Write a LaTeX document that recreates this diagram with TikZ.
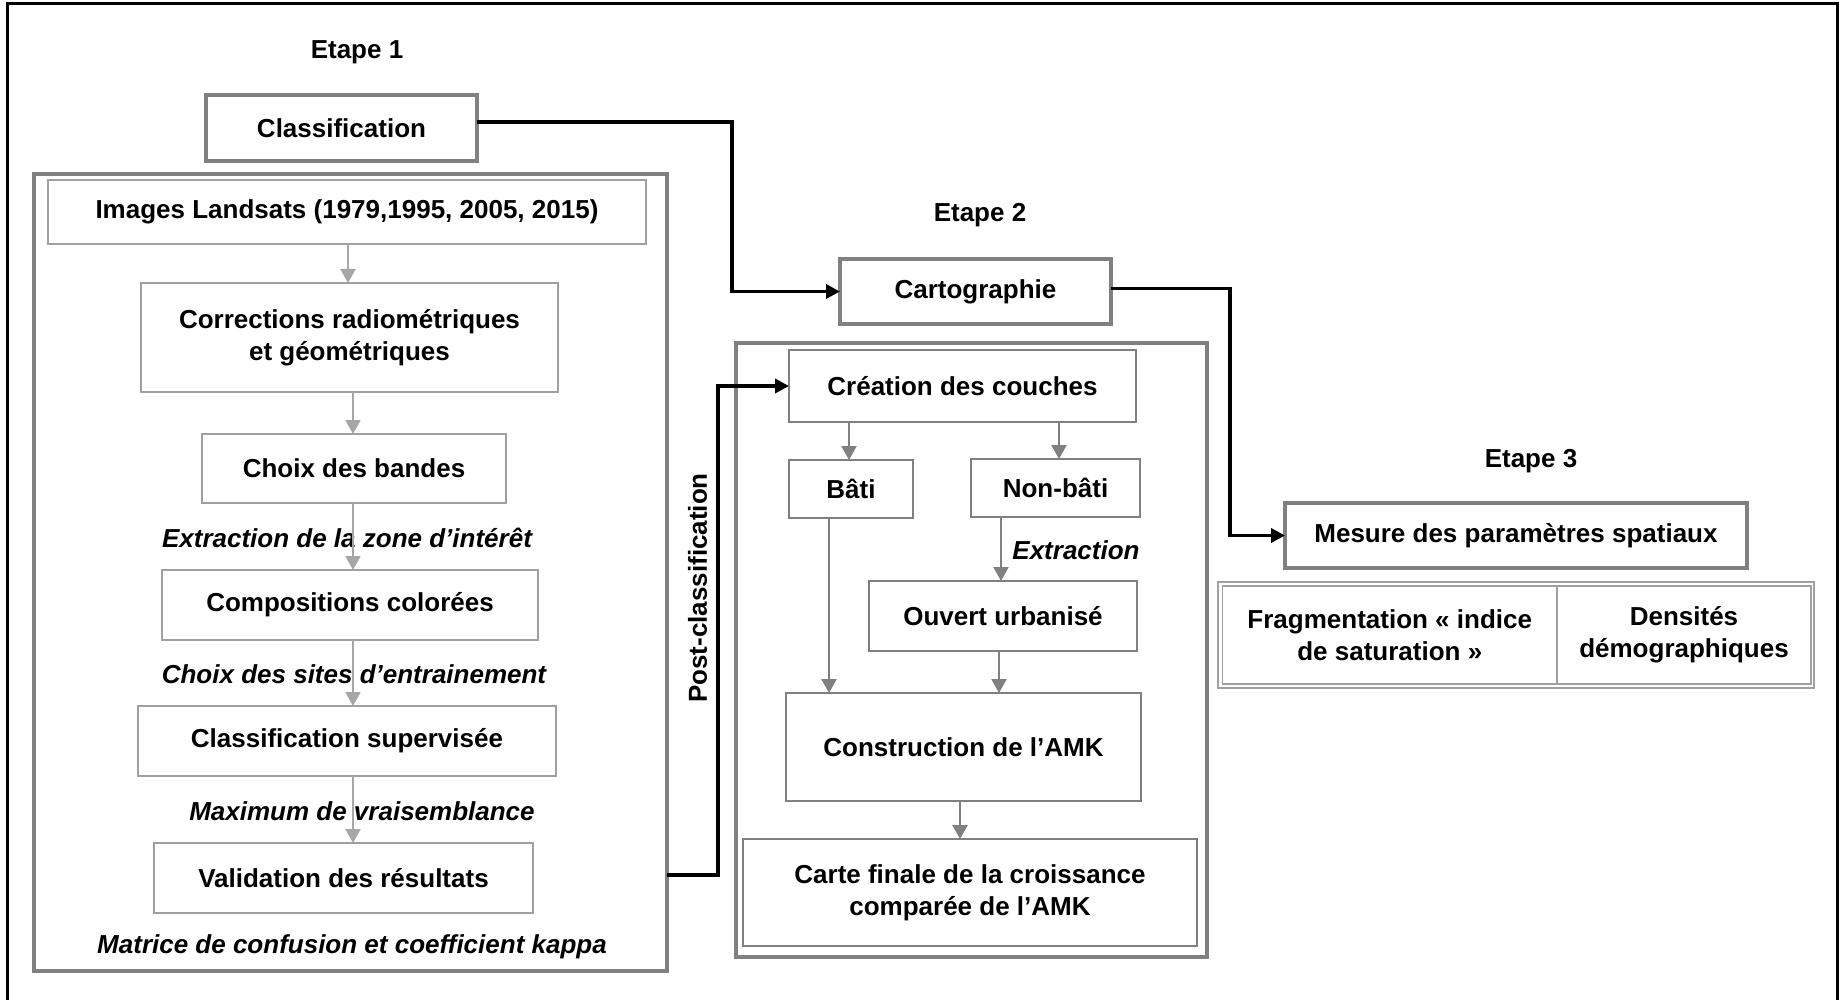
\documentclass[tikz,border=0pt]{standalone}
\usepackage{fontspec}
\setmainfont{Liberation Sans}
\usetikzlibrary{arrows.meta,calc}
\definecolor{thickgray}{HTML}{808080}
\definecolor{thingray}{HTML}{A0A0A0}
\definecolor{arrgray}{HTML}{A6A6A6}
\definecolor{arrgraydk}{HTML}{808080}
\begin{document}
\begin{tikzpicture}[x=1pt,y=-1pt,
  lbl/.style={font=\fontsize{26}{32}\selectfont\bfseries, inner sep=0pt},
  ital/.style={font=\fontsize{26}{32}\selectfont\bfseries\itshape, inner sep=0pt},
  tbox/.style={draw=thickgray, line width=4pt, fill=white, inner sep=0pt, outer sep=0pt, align=center, font=\fontsize{26}{32}\selectfont\bfseries},
  sbox/.style={draw=thingray, line width=1.5pt, fill=white, inner sep=0pt, outer sep=0pt, align=center, font=\fontsize{26}{32}\selectfont\bfseries},
  grp/.style={draw=thickgray, line width=4pt, inner sep=0pt, outer sep=0pt},
  garr/.style={draw=arrgray, line width=2pt, -{Triangle[length=14pt,width=15pt]}},
  darr/.style={draw=arrgraydk, line width=2.5pt, -{Triangle[length=14pt,width=15pt]}},
  barr/.style={draw=black, line width=3.5pt, -{Triangle[length=14pt,width=14pt]}}
]
\useasboundingbox[fill=white] (0,0) rectangle (1841,1000);
\draw[line width=3pt] (7,1010) -- (7,4) -- (1837,4) -- (1837,1010);

% ---------- Etape 1 ----------
\node[lbl] (e1) at (357,52) {Etape 1};
\node[tbox, minimum width=271pt, minimum height=66pt] (cls) at (341.5,128) {Classification};
\node[grp, minimum width=633pt, minimum height=797pt] (g1) at (350,572.5) {};
\node[sbox, minimum width=598pt, minimum height=64pt] (img) at (347,212) {Images Landsats (1979,1995, 2005, 2015)};
\node[sbox, minimum width=417pt, minimum height=109pt] (cor) at (349.5,337.5) {Corrections radiométriques\\et géométriques};
\node[sbox, minimum width=304pt, minimum height=69pt] (cho) at (354,468.5) {Choix des bandes};
\node[sbox, minimum width=376pt, minimum height=70pt] (com) at (350,605) {Compositions colorées};
\node[sbox, minimum width=418pt, minimum height=70pt] (csup) at (347,741) {Classification supervisée};
\node[sbox, minimum width=379pt, minimum height=70pt] (val) at (343.5,878) {Validation des résultats};
\node[ital] (l1) at (347,538) {Extraction de la zone d’intérêt};
\node[ital] (l2) at (354,674) {Choix des sites d’entrainement};
\node[ital] (l3) at (362,811) {Maximum de vraisemblance};
\node[ital] (l4) at (352,947) {Matrice de confusion et coefficient kappa};

\coordinate (xa1) at (348,0);
\coordinate (xa2) at (353,0);
\draw[garr] (img.south -| xa1) -- (cor.north -| xa1);
\draw[garr] (cor.south -| xa2) -- (cho.north -| xa2);
\draw[garr] (cho.south -| xa2) -- (com.north -| xa2);
\draw[garr] (com.south -| xa2) -- (csup.north -| xa2);
\draw[garr] (csup.south -| xa2) -- (val.north -| xa2);

% ---------- Etape 2 ----------
\node[lbl] (e2) at (980,215) {Etape 2};
\node[tbox, minimum width=271pt, minimum height=65pt] (carto) at (975.5,291.5) {Cartographie};
\node[grp, minimum width=471pt, minimum height=614pt] (g2) at (971.5,650) {};
\node[sbox, draw=arrgraydk, minimum width=347pt, minimum height=72pt] (cre) at (962.5,386) {Création des couches};
\node[sbox, draw=arrgraydk, minimum width=124pt, minimum height=58pt] (bati) at (851,489) {Bâti};
\node[sbox, draw=arrgraydk, minimum width=169pt, minimum height=58pt] (nbati) at (1055.5,488) {Non-bâti};
\node[sbox, draw=arrgraydk, minimum width=268pt, minimum height=70pt] (ouv) at (1003,616) {Ouvert urbanisé};
\node[sbox, draw=arrgraydk, minimum width=355pt, minimum height=108pt] (cons) at (963.5,747) {Construction de l’AMK};
\node[sbox, draw=arrgraydk, minimum width=454pt, minimum height=107pt] (carte) at (970,892.5) {Carte finale de la croissance\\comparée de l’AMK};
\node[ital] (l5) at (1076,550) {Extraction};
\node[lbl, rotate=90] (pc) at (697.5,588) {Post-classification};

\coordinate (xb1) at (849,0);
\coordinate (xb2) at (1059,0);
\coordinate (xb3) at (1001,0);
\coordinate (xb4) at (829,0);
\coordinate (xb5) at (999,0);
\coordinate (xb6) at (960,0);
\draw[darr] (cre.south -| xb1) -- (bati.north -| xb1);
\draw[darr] (cre.south -| xb2) -- (nbati.north -| xb2);
\draw[darr] (nbati.south -| xb3) -- (ouv.north -| xb3);
\draw[darr] (bati.south -| xb4) -- (cons.north -| xb4);
\draw[darr] (ouv.south -| xb5) -- (cons.north -| xb5);
\draw[darr] (cons.south -| xb6) -- (carte.north -| xb6);

% ---------- Etape 3 ----------
\node[lbl] (e3) at (1531,461) {Etape 3};
\node[tbox, minimum width=462pt, minimum height=65pt] (mes) at (1516,535.5) {Mesure des paramètres spatiaux};
\node[draw=thingray, line width=2.5pt, inner sep=0pt, outer sep=0pt, minimum width=596pt, minimum height=106pt] (g3) at (1516,635) {};
\node[sbox, minimum width=334.5pt, minimum height=98pt] (frag) at (1389.75,635) {Fragmentation « indice\\de saturation »};
\node[sbox, minimum width=254pt, minimum height=98pt] (dens) at (1684,635) {Densités\\démographiques};

% ---------- Black connectors ----------
\coordinate (c1) at (732,200);
\coordinate (c2) at (1230,400);
\coordinate (c3) at (718,600);
\draw[barr] ($(cls.east)+(0,-6)$) -| (c1) |- (carto.west);
\draw[barr] ($(carto.east)+(0,-3)$) -| (c2) |- (mes.west);
\draw[barr] ($(g1.east |- val.east)+(0,-3)$) -| (c3) |- (cre.west);
\end{tikzpicture}
\end{document}
